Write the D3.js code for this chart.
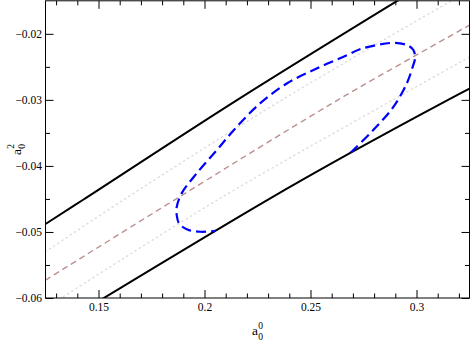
<!DOCTYPE html>
<html><head><meta charset="utf-8">
<script src="https://cdn.jsdelivr.net/npm/d3@7"></script>
<style>body{margin:0;background:#fff}svg{display:block}
svg text{font-family:"Liberation Serif","Times New Roman",Times,"DejaVu Serif",serif;}</style>
</head><body>
<svg id="c" width="471" height="344"></svg>
<script>
// ---- data ----
const xDomain = [0.125, 0.325];
const yDomain = [-0.06, -0.015];
const xMajor = [0.15, 0.2, 0.25, 0.3];
const xMajorLabels = ["0.15", "0.2", "0.25", "0.3"];
const xMinor = [0.13, 0.14, 0.16, 0.17, 0.18, 0.19, 0.21, 0.22, 0.23, 0.24, 0.26, 0.27, 0.28, 0.29, 0.31, 0.32];
const yMajor = [-0.06, -0.05, -0.04, -0.03, -0.02];
const yMajorLabels = ["\u22120.06", "\u22120.05", "\u22120.04", "\u22120.03", "\u22120.02"];
const yMinor = [-0.055, -0.045, -0.035, -0.025];

const upperSolid = [[0.125, -0.0488], [0.1424, -0.0452], [0.2155, -0.0300], [0.2925, -0.0147]];
const lowerSolid = [[0.1515, -0.0602], [0.2300, -0.0451], [0.2690, -0.0380], [0.3149, -0.0300], [0.325, -0.0283]];
const centerDashed = [[0.125, -0.0573], [0.1861, -0.0451], [0.2630, -0.0300], [0.325, -0.0187]];
const upperDotted = [[0.125, -0.0530], [0.1620, -0.0451], [0.2366, -0.0300], [0.3175, -0.0148]];
const lowerDotted = [[0.1315, -0.0602], [0.2064, -0.0451], [0.2889, -0.0300], [0.325, -0.0235]];
const contour = [
  [0.2690, -0.03796], [0.2796, -0.03458], [0.2891, -0.03106], [0.2954, -0.02752],
  [0.2982, -0.02501], [0.2993, -0.02369], [0.2986, -0.02248], [0.2962, -0.02180],
  [0.2922, -0.02145], [0.2878, -0.02138], [0.2812, -0.02170], [0.2733, -0.02233],
  [0.2671, -0.02324], [0.2529, -0.02525], [0.2388, -0.02752], [0.2262, -0.03054],
  [0.2152, -0.03408], [0.2058, -0.03761], [0.1963, -0.04113], [0.1892, -0.04416],
  [0.1869, -0.04623], [0.1869, -0.04744], [0.1880, -0.04870], [0.1919, -0.04964],
  [0.1982, -0.04997], [0.2053, -0.04983]
];

// ---- layout ----
const svg = d3.select("#c");
const L = 45.5, R = 469.5, T = 0.8, B = 298;
const x = d3.scaleLinear().domain(xDomain).range([L, R]);
const y = d3.scaleLinear().domain(yDomain).range([B, T]);

svg.append("defs").append("clipPath").attr("id", "clip")
  .append("rect").attr("x", L).attr("y", T).attr("width", R - L).attr("height", B - T);

const plot = svg.append("g").attr("clip-path", "url(#clip)");
const line = d3.line().x(d => x(d[0])).y(d => y(d[1])).curve(d3.curveCatmullRom);

plot.append("path").datum(upperDotted).attr("d", line)
  .attr("fill", "none").attr("stroke", "#dcdcdc").attr("stroke-width", 1.4)
  .attr("stroke-dasharray", "1.2,3.8").attr("stroke-linecap", "round");
plot.append("path").datum(lowerDotted).attr("d", line)
  .attr("fill", "none").attr("stroke", "#dcdcdc").attr("stroke-width", 1.4)
  .attr("stroke-dasharray", "1.2,3.8").attr("stroke-linecap", "round");
plot.append("path").datum(centerDashed).attr("d", line)
  .attr("fill", "none").attr("stroke", "#bc8f8f").attr("stroke-width", 1.4)
  .attr("stroke-dasharray", "6,4");
plot.append("path").datum(upperSolid).attr("d", line)
  .attr("fill", "none").attr("stroke", "#000").attr("stroke-width", 2);
plot.append("path").datum(lowerSolid).attr("d", line)
  .attr("fill", "none").attr("stroke", "#000").attr("stroke-width", 2);
plot.append("path").datum(contour).attr("d", line)
  .attr("fill", "none").attr("stroke", "#0000ff").attr("stroke-width", 2.2)
  .attr("stroke-dasharray", "10,5");

// ---- axes ----
function styleAxis(g) {
  g.attr("font-family", null);
  g.select(".domain").remove();
  g.selectAll("line").attr("stroke", "#000").attr("stroke-width", 1);
  g.selectAll("text").attr("font-size", 11.5).attr("fill", "#000");
}
svg.append("g").attr("transform", `translate(0,${B})`)
  .call(d3.axisBottom(x).tickValues(xMajor).tickSize(-8).tickPadding(5)
    .tickFormat((d, i) => xMajorLabels[i])).call(styleAxis);
svg.append("g").attr("transform", `translate(0,${B})`)
  .call(d3.axisBottom(x).tickValues(xMinor).tickSize(-4.5).tickFormat("")).call(styleAxis);
svg.append("g").attr("transform", `translate(0,${T})`)
  .call(d3.axisTop(x).tickValues(xMajor).tickSize(-8).tickFormat("")).call(styleAxis);
svg.append("g").attr("transform", `translate(0,${T})`)
  .call(d3.axisTop(x).tickValues(xMinor).tickSize(-4.5).tickFormat("")).call(styleAxis);

svg.append("g").attr("transform", `translate(${L},0)`)
  .call(d3.axisLeft(y).tickValues(yMajor).tickSize(-8).tickPadding(3.5)
    .tickFormat((d, i) => yMajorLabels[i])).call(styleAxis);
svg.append("g").attr("transform", `translate(${L},0)`)
  .call(d3.axisLeft(y).tickValues(yMinor).tickSize(-4.5).tickFormat("")).call(styleAxis);
svg.append("g").attr("transform", `translate(${R},0)`)
  .call(d3.axisRight(y).tickValues(yMajor).tickSize(-8).tickFormat("")).call(styleAxis);
svg.append("g").attr("transform", `translate(${R},0)`)
  .call(d3.axisRight(y).tickValues(yMinor).tickSize(-4.5).tickFormat("")).call(styleAxis);

svg.append("rect").attr("x", L).attr("y", T).attr("width", R - L).attr("height", B - T)
  .attr("fill", "none").attr("stroke", "#000").attr("stroke-width", 1);

// ---- axis titles ----
function symbol(g, sup, sub) {
  g.append("text").attr("x", 0).attr("y", 0).text("a").attr("font-size", 13.5);
  g.append("text").attr("x", 6.3).attr("y", -6.5).text(sup).attr("font-size", 9.5);
  g.append("text").attr("x", 6.3).attr("y", 4.5).text(sub).attr("font-size", 9.5);
}
symbol(svg.append("g").attr("transform", "translate(252,335)"), "0", "0");
symbol(svg.append("g").attr("transform", "translate(20.5,155) rotate(-90)"), "2", "0");
</script>
</body></html>
